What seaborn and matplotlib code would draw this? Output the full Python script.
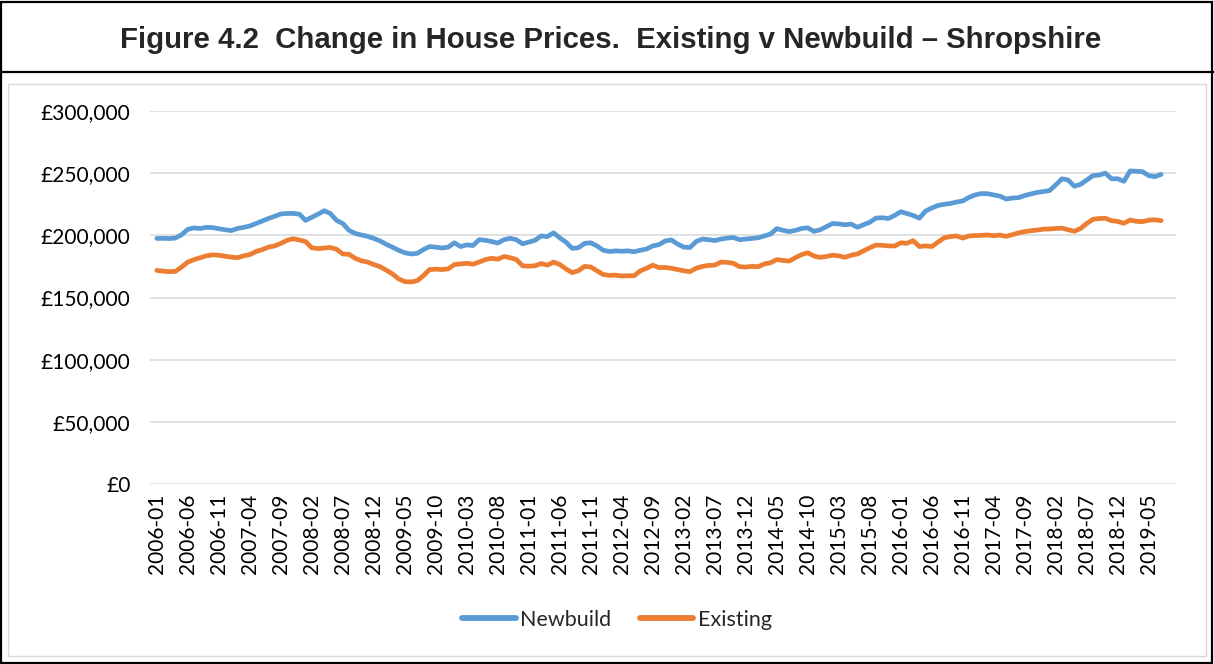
import matplotlib
matplotlib.use("Agg")
import matplotlib.pyplot as plt
import matplotlib.patches as patches
import matplotlib.ticker as mticker
import numpy as np
import pandas as pd
import seaborn as sns

# monthly average prices, 2006-01 .. 2019-07 (thousands of pounds)
newbuild = [
    197.5, 197.6, 197.4, 197.8, 200.5, 204.8, 206.0, 205.5, 206.4, 206.2,
    205.3, 204.5, 203.8, 205.5, 206.4, 207.5, 209.5, 211.5, 213.5, 215.3,
    217.2, 217.6, 217.6, 217.0, 212.0, 214.5, 217.0, 219.8, 217.5, 212.0,
    209.5, 204.0, 201.5, 200.3, 199.2, 197.5, 195.5, 192.8, 190.5, 188.0,
    186.0, 185.0, 185.5, 188.5, 191.0, 190.5, 189.8, 190.5, 194.0, 191.0,
    192.3, 191.8, 196.5, 196.0, 195.0, 193.8, 196.5, 197.6, 196.5, 193.2,
    194.5, 196.0, 199.5, 199.0, 202.0, 198.0, 194.5, 189.5, 190.0, 193.5,
    194.0, 191.5, 188.0, 187.0, 187.5, 187.2, 187.5, 186.8, 188.0, 189.0,
    191.5, 192.5, 195.5, 196.3, 193.0, 190.5, 190.2, 195.0, 197.0, 196.5,
    195.8, 197.0, 197.8, 198.2, 196.5, 197.0, 197.5, 198.0, 199.5, 201.0,
    205.4, 204.0, 203.0, 204.0, 205.5, 206.0, 203.2, 204.5, 207.0, 209.5,
    209.2, 208.5, 209.0, 206.5, 208.5, 210.5, 213.8, 214.2, 213.5, 216.0,
    219.0, 217.5, 216.0, 213.8, 219.5, 222.0, 224.0, 225.0, 225.6, 226.8,
    227.6, 230.5, 232.5, 233.6, 233.5, 232.5, 231.5, 229.2, 230.0, 230.3,
    232.0, 233.3, 234.5, 235.2, 236.0, 240.5, 245.5, 244.5, 239.5, 241.0,
    244.5, 248.0, 248.5, 250.0, 245.5, 245.5, 243.5, 251.8, 251.5, 251.2,
    248.0, 247.2, 249.0,
]
existing = [
    171.8, 171.2, 170.8, 171.0, 174.5, 178.5, 180.5, 182.0, 183.5, 184.3,
    184.0, 183.2, 182.5, 182.0, 183.5, 184.5, 187.0, 188.5, 190.5, 191.5,
    193.5, 196.0, 197.3, 196.2, 195.0, 190.0, 189.3, 189.8, 190.2, 188.8,
    185.0, 184.8, 181.5, 179.5, 178.5, 176.5, 174.8, 172.0, 169.0, 165.0,
    162.8, 162.5, 163.5, 167.5, 172.5, 172.8, 172.5, 173.0, 176.5, 177.0,
    177.5, 176.8, 178.5, 180.5, 181.5, 180.8, 183.0, 182.0, 180.5, 175.5,
    175.2, 175.5, 177.3, 176.0, 178.5, 176.5, 173.0, 170.0, 171.5, 175.0,
    174.5, 171.5, 168.5, 167.8, 168.0, 167.3, 167.5, 167.5, 171.5, 173.5,
    176.0, 174.0, 174.2, 173.5, 172.5, 171.5, 170.8, 173.5, 175.0, 175.8,
    176.0, 178.5, 178.3, 177.5, 174.8, 174.5, 175.0, 174.8, 177.0, 178.0,
    180.5, 179.8, 179.3, 182.0, 184.5, 186.0, 183.3, 182.3, 183.0, 184.0,
    183.5, 182.3, 184.0, 185.0, 187.5, 190.0, 192.2, 192.0, 191.5, 191.4,
    194.0, 193.6, 195.7, 191.0, 191.5, 191.0, 194.5, 198.0, 199.0, 199.5,
    197.8, 199.5, 199.8, 200.0, 200.3, 199.7, 200.2, 199.2, 200.5, 202.0,
    203.0, 203.7, 204.2, 205.0, 205.1, 205.5, 205.8, 204.5, 203.3, 205.5,
    209.5, 212.9, 213.5, 213.7, 211.8, 211.2, 209.7, 212.3, 211.3, 211.0,
    212.2, 212.5, 211.8,
]
months = pd.date_range("2006-01", periods=len(newbuild), freq="MS").strftime("%Y-%m").tolist()
series_names = ["Newbuild", "Existing"]
colors = ["#5B9BD5", "#ED7D31"]
title = "Figure 4.2  Change in House Prices.  Existing v Newbuild \u2013 Shropshire"

# long-form table for seaborn
df = pd.DataFrame({
    "pos": list(range(len(months))) * 2,
    "price": [v * 1000 for v in newbuild] + [v * 1000 for v in existing],
    "series": ["Newbuild"] * len(newbuild) + ["Existing"] * len(existing),
})

sns.set_theme(style="white")
plt.rcParams["font.family"] = ["Lato", "DejaVu Sans"]

W, H = 1214, 664
fig = plt.figure(figsize=(W / 100, H / 100), dpi=100)

# frames: outer black box, title separator, inner grey chart box
fig.patches.append(patches.Rectangle((1 / W, 1 / H), 1 - 3 / W, 1 - 3 / H, transform=fig.transFigure,
                                     fill=False, edgecolor="black", linewidth=1.6))
fig.add_artist(plt.Line2D([0, 1], [1 - 72 / H, 1 - 72 / H], transform=fig.transFigure,
                          color="black", linewidth=1.6))
fig.patches.append(patches.Rectangle((8 / W, 8 / H), (1206 - 8) / W, (656 - 84) / H, transform=fig.transFigure,
                                     fill=False, edgecolor="#D9D9D9", linewidth=1.0))
fig.text(611 / W, 1 - 40 / H, title, ha="center", va="center", fontsize=21.2,
         fontweight="bold", family=["Liberation Sans", "DejaVu Sans"])

ax = fig.add_axes([150 / W, (H - 484) / H, (1176 - 150) / W, (484 - 111) / H])
sns.lineplot(data=df, x="pos", y="price", hue="series", hue_order=series_names,
             palette=colors, linewidth=3.4, ax=ax, legend=True)

ax.set_ylim(0, 300000)
ax.set_xlim(-1.1, 164.4)
ax.yaxis.set_major_locator(mticker.MultipleLocator(50000))
ax.yaxis.set_major_formatter(mticker.FuncFormatter(lambda v, p: f"\u00a3{v:,.0f}"))
ticks = list(range(0, len(months), 5))
ax.set_xticks(ticks)
ax.set_xticklabels([months[t] for t in ticks], rotation=90)
ax.tick_params(axis="both", labelsize=15, colors="black", length=0)
ax.tick_params(axis="y", pad=14)
ax.tick_params(axis="x", pad=7)
ax.grid(axis="y", color="#D9D9D9", linewidth=1.1)
ax.set_axisbelow(True)
for s in ax.spines.values():
    s.set_visible(False)
ax.set_xlabel("")
ax.set_ylabel("")

handles, labels = ax.get_legend_handles_labels()
for h in handles:
    h.set_linewidth(4.2)
ax.legend(handles, labels, loc="center", bbox_to_anchor=(617 / W, 1 - 620 / H),
          bbox_transform=fig.transFigure, ncol=2, frameon=False, fontsize=15.5,
          handlelength=2.5, columnspacing=1.3, handletextpad=0.2)

fig.savefig("out.png", dpi=100)
